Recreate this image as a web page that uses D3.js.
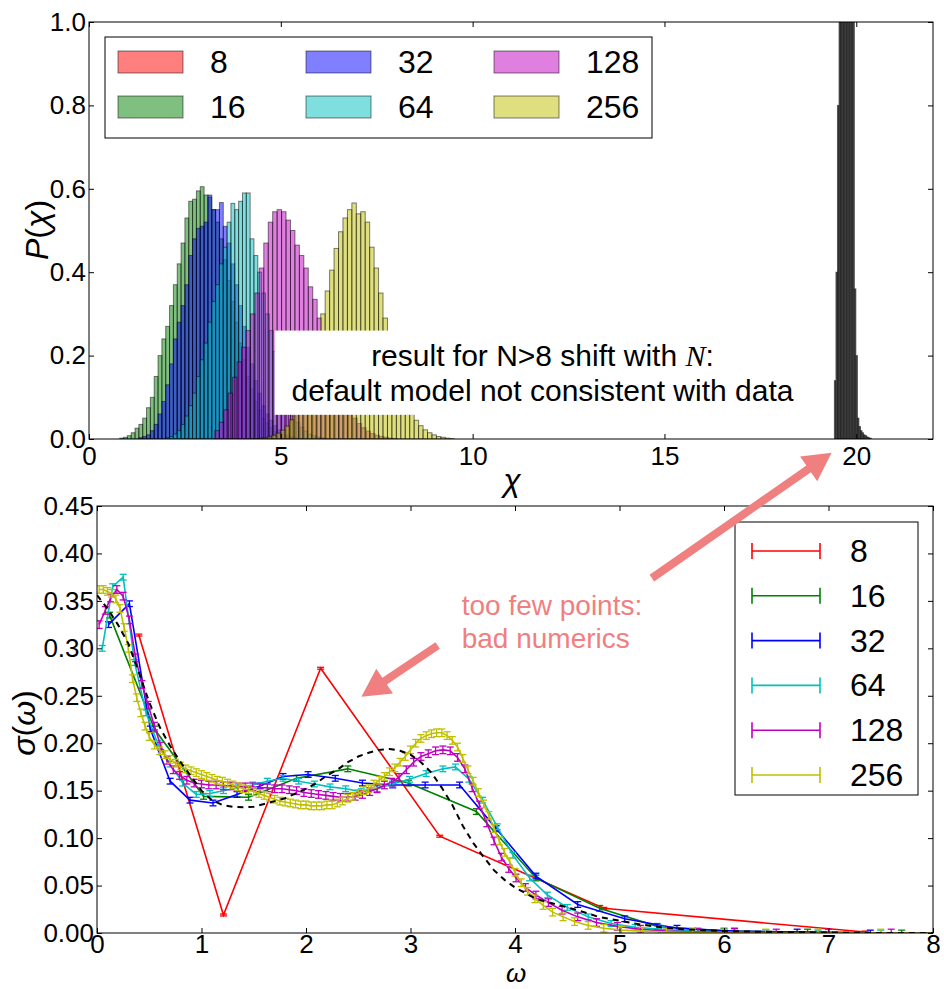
<!DOCTYPE html>
<html>
<head>
<meta charset="utf-8">
<script src="https://cdn.jsdelivr.net/npm/d3@7"></script>
<style>
  body { margin: 0; background: #fff; }
  svg text { font-family: "Liberation Sans", Arial, sans-serif; }
</style>
</head>
<body>
<svg id="chart" width="944" height="989"></svg>
<script>
// ---------------- data ----------------
const sizes = ['8', '16', '32', '64', '128', '256'];
const colors = ['#ff0000', '#008000', '#0000ff', '#00bfbf', '#bf00bf', '#bfbf00'];

// top panel: histograms of chi, left edge of first bin, bin width, bin heights
const histStart = [19.43, 0.80, 1.30, 2.00, 3.28, 4.30];
const histWidth = [0.04, 0.10, 0.10, 0.10, 0.116, 0.116];
const hist8 = [0.14, 0.40, 0.80, 1.4, 2.2, 3.0, 3.4, 3.4, 3.0, 2.4, 1.7, 1.2, 1.0, 0.36, 0.2,
  0.05, 0.03, 0.02, 0.015, 0.01, 0.008, 0.005, 0.003, 0.002];
const hist16 = [0.002, 0.004, 0.008, 0.015, 0.026, 0.035, 0.05, 0.075, 0.10, 0.15, 0.20, 0.24,
  0.27, 0.32, 0.37, 0.42, 0.47, 0.53, 0.57, 0.575, 0.595, 0.605, 0.585, 0.58, 0.55, 0.52, 0.48,
  0.43, 0.38, 0.33, 0.28, 0.23, 0.19, 0.15, 0.12, 0.09, 0.07, 0.05, 0.038, 0.027, 0.019, 0.013,
  0.009, 0.006, 0.004, 0.002, 0.001];
const hist32 = [0.003, 0.006, 0.01, 0.02, 0.035, 0.06, 0.09, 0.13, 0.18, 0.24, 0.28, 0.32, 0.37,
  0.44, 0.48, 0.505, 0.51, 0.52, 0.585, 0.55, 0.55, 0.567, 0.51, 0.47, 0.42, 0.37, 0.32, 0.27,
  0.22, 0.18, 0.14, 0.11, 0.08, 0.06, 0.045, 0.032, 0.022, 0.015, 0.01, 0.006, 0.004, 0.002, 0.001];
const hist64 = [0.003, 0.006, 0.012, 0.02, 0.035, 0.055, 0.08, 0.11, 0.15, 0.19, 0.23, 0.28, 0.33,
  0.37, 0.42, 0.46, 0.52, 0.565, 0.55, 0.57, 0.59, 0.59, 0.48, 0.44, 0.40, 0.35, 0.30, 0.26, 0.21,
  0.17, 0.13, 0.10, 0.075, 0.055, 0.04, 0.028, 0.019, 0.012, 0.008, 0.005, 0.003, 0.002];
const hist128 = [0.02, 0.04, 0.07, 0.11, 0.148, 0.185, 0.22, 0.26, 0.30, 0.35, 0.41, 0.47, 0.52,
  0.545, 0.55, 0.545, 0.525, 0.50, 0.465, 0.44, 0.41, 0.365, 0.335, 0.29, 0.25, 0.21, 0.175, 0.14,
  0.11, 0.085, 0.065, 0.05, 0.037, 0.027, 0.019, 0.013, 0.009, 0.006, 0.004, 0.002, 0.001];
const hist256 = [0.001, 0.002, 0.003, 0.005, 0.009, 0.014, 0.021, 0.031, 0.046, 0.063, 0.088, 0.12,
  0.155, 0.20, 0.245, 0.30, 0.355, 0.405, 0.457, 0.497, 0.53, 0.55, 0.566, 0.54, 0.545, 0.52, 0.46,
  0.41, 0.35, 0.29, 0.24, 0.19, 0.15, 0.115, 0.085, 0.06, 0.045, 0.032, 0.022, 0.015, 0.010, 0.006,
  0.004, 0.002, 0.001];
const hists = [hist8, hist16, hist32, hist64, hist128, hist256];

// bottom panel: sigma(omega) per N, as [omega, sigma]
const sig8 = [[0.40, 0.314], [1.21, 0.019], [2.14, 0.279], [3.28, 0.102], [4.85, 0.026], [7.35, 0.001]];
const sig16 = [[0.12, 0.335], [0.55, 0.215], [1.02, 0.144], [1.45, 0.143], [1.91, 0.163], [2.40, 0.173],
  [2.98, 0.158], [3.63, 0.128], [4.20, 0.058], [4.81, 0.026], [5.36, 0.007], [6.0, 0.002], [6.8, 0.001], [7.7, 0.0]];
const sig32 = [[0.11, 0.325], [0.31, 0.347], [0.51, 0.215], [0.70, 0.160], [0.89, 0.140], [1.11, 0.137],
  [1.34, 0.146], [1.56, 0.155], [1.78, 0.165], [2.02, 0.167], [2.28, 0.163], [2.54, 0.158], [2.83, 0.156],
  [3.14, 0.156], [3.47, 0.156], [3.82, 0.110], [4.20, 0.060], [4.60, 0.030], [5.05, 0.015], [5.55, 0.005],
  [6.10, 0.002], [6.70, 0.001], [7.40, 0.0], [8.20, 0.0]];
const sig64 = [[0.05, 0.300], [0.15, 0.365], [0.25, 0.375], [0.36, 0.285], [0.47, 0.232], [0.58, 0.200],
  [0.70, 0.178], [0.82, 0.158], [0.95, 0.146], [1.08, 0.147], [1.21, 0.150], [1.35, 0.153], [1.49, 0.156],
  [1.63, 0.160], [1.78, 0.163], [1.93, 0.160], [2.08, 0.157], [2.23, 0.154], [2.38, 0.152], [2.53, 0.149],
  [2.68, 0.152], [2.83, 0.157], [2.99, 0.162], [3.15, 0.168], [3.31, 0.173], [3.43, 0.175], [3.56, 0.162],
  [3.69, 0.140], [3.83, 0.112], [3.98, 0.082], [4.14, 0.058], [4.31, 0.040], [4.50, 0.027], [4.70, 0.017],
  [4.92, 0.010], [5.15, 0.006], [5.40, 0.004], [5.70, 0.002], [6.00, 0.001], [6.40, 0.0005], [6.90, 0.0],
  [7.50, 0.0], [8.20, 0.0]];
const sig128 = [[0.02, 0.325], [0.08, 0.340], [0.13, 0.353], [0.19, 0.362], [0.25, 0.355], [0.31, 0.330],
  [0.37, 0.290], [0.43, 0.262], [0.49, 0.240], [0.55, 0.218], [0.61, 0.197], [0.67, 0.182], [0.73, 0.172],
  [0.79, 0.166], [0.86, 0.161], [0.93, 0.158], [1.00, 0.157], [1.07, 0.156], [1.14, 0.156], [1.21, 0.155],
  [1.28, 0.155], [1.35, 0.154], [1.42, 0.154], [1.49, 0.154], [1.56, 0.153], [1.63, 0.153], [1.70, 0.152],
  [1.77, 0.152], [1.84, 0.151], [1.91, 0.150], [1.98, 0.148], [2.05, 0.147], [2.12, 0.146], [2.19, 0.145],
  [2.26, 0.144], [2.33, 0.143], [2.40, 0.143], [2.47, 0.144], [2.54, 0.146], [2.61, 0.149], [2.68, 0.152],
  [2.75, 0.156], [2.82, 0.159], [2.89, 0.164], [2.96, 0.172], [3.03, 0.180], [3.10, 0.186], [3.17, 0.189],
  [3.24, 0.192], [3.31, 0.193], [3.38, 0.192], [3.45, 0.185], [3.52, 0.173], [3.59, 0.153], [3.66, 0.135],
  [3.73, 0.116], [3.80, 0.097], [3.87, 0.080], [3.94, 0.068], [4.01, 0.058], [4.10, 0.048], [4.20, 0.040],
  [4.32, 0.032], [4.45, 0.024], [4.60, 0.017], [4.78, 0.011], [4.98, 0.007], [5.20, 0.004], [5.45, 0.002],
  [5.75, 0.001], [6.10, 0.0005], [6.50, 0.0], [7.00, 0.0], [7.60, 0.0], [8.20, 0.0]];
const sig256 = [[0.02, 0.362], [0.06, 0.362], [0.10, 0.360], [0.14, 0.358], [0.18, 0.352], [0.22, 0.342],
  [0.26, 0.322], [0.30, 0.300], [0.34, 0.268], [0.38, 0.248], [0.42, 0.232], [0.46, 0.218], [0.50, 0.207],
  [0.55, 0.198], [0.60, 0.192], [0.65, 0.188], [0.70, 0.183], [0.75, 0.179], [0.80, 0.176], [0.85, 0.173],
  [0.90, 0.171], [0.95, 0.169], [1.00, 0.167], [1.05, 0.165], [1.10, 0.163], [1.15, 0.161], [1.20, 0.160],
  [1.25, 0.158], [1.30, 0.156], [1.35, 0.154], [1.40, 0.152], [1.45, 0.151], [1.50, 0.149], [1.55, 0.147],
  [1.60, 0.145], [1.65, 0.143], [1.70, 0.141], [1.75, 0.139], [1.80, 0.138], [1.85, 0.137], [1.90, 0.136],
  [1.95, 0.135], [2.00, 0.135], [2.05, 0.134], [2.10, 0.134], [2.15, 0.134], [2.20, 0.135], [2.25, 0.135],
  [2.30, 0.137], [2.35, 0.139], [2.40, 0.142], [2.45, 0.144], [2.50, 0.147], [2.55, 0.150], [2.60, 0.152],
  [2.65, 0.157], [2.70, 0.161], [2.75, 0.165], [2.80, 0.170], [2.85, 0.174], [2.90, 0.180], [2.95, 0.186],
  [3.00, 0.193], [3.05, 0.200], [3.10, 0.205], [3.15, 0.208], [3.20, 0.210], [3.25, 0.211], [3.30, 0.211],
  [3.35, 0.208], [3.40, 0.203], [3.45, 0.196], [3.50, 0.184], [3.55, 0.172], [3.60, 0.160], [3.65, 0.148],
  [3.70, 0.136], [3.75, 0.124], [3.80, 0.110], [3.85, 0.097], [3.90, 0.085], [3.95, 0.075], [4.00, 0.064],
  [4.06, 0.053], [4.12, 0.044], [4.19, 0.036], [4.27, 0.029], [4.36, 0.022], [4.46, 0.017], [4.57, 0.012],
  [4.70, 0.008], [4.85, 0.005], [5.02, 0.003], [5.22, 0.002], [5.45, 0.001], [5.70, 0.0005], [6.00, 0.0],
  [6.40, 0.0], [6.90, 0.0], [7.50, 0.0], [8.20, 0.0]];
const sigSeries = [sig8, sig16, sig32, sig64, sig128, sig256];
const sigErr = [0.001, 0.003, 0.003, 0.003, 0.004, 0.004];

// default model (dashed)
const model = [[0.0, 0.356], [0.1, 0.342], [0.2, 0.325], [0.3, 0.305], [0.4, 0.275], [0.5, 0.243],
  [0.6, 0.217], [0.7, 0.197], [0.8, 0.180], [0.9, 0.165], [1.0, 0.150], [1.1, 0.140], [1.2, 0.135],
  [1.3, 0.133], [1.4, 0.1325], [1.5, 0.133], [1.6, 0.136], [1.7, 0.139], [1.8, 0.142], [1.9, 0.147],
  [2.0, 0.152], [2.1, 0.158], [2.2, 0.166], [2.3, 0.172], [2.4, 0.180], [2.5, 0.186], [2.6, 0.190],
  [2.7, 0.193], [2.8, 0.194], [2.9, 0.192], [3.0, 0.188], [3.1, 0.180], [3.2, 0.169], [3.3, 0.153],
  [3.4, 0.135], [3.5, 0.113], [3.6, 0.095], [3.7, 0.080], [3.8, 0.066], [3.9, 0.056], [4.0, 0.048],
  [4.2, 0.036], [4.4, 0.030], [4.6, 0.024], [4.8, 0.017], [5.0, 0.013], [5.2, 0.009], [5.4, 0.006],
  [5.6, 0.004], [5.8, 0.003], [6.0, 0.002], [6.5, 0.001], [7.0, 0.0005], [7.5, 0.0], [8.0, 0.0]];

const chiTicks = [0, 5, 10, 15, 20];
const pTicks = [0, 0.2, 0.4, 0.6, 0.8, 1.0];
const omegaTicks = [0, 1, 2, 3, 4, 5, 6, 7, 8];
const sigmaTicks = [0, 0.05, 0.10, 0.15, 0.20, 0.25, 0.30, 0.35, 0.40, 0.45];

const noteColor = '#f08080';

// ---------------- drawing ----------------
const svg = d3.select('#chart');
const defs = svg.append('defs');

const tp = { l: 89, r: 933, t: 22, b: 439 };
const bp = { l: 97, r: 933, t: 506, b: 933 };

const xChi = d3.scaleLinear().domain([0, 22]).range([tp.l, tp.r]);
const yP = d3.scaleLinear().domain([0, 1]).range([tp.b, tp.t]);
const xW = d3.scaleLinear().domain([0, 8]).range([bp.l, bp.r]);
const yS = d3.scaleLinear().domain([0, 0.45]).range([bp.b, bp.t]);

function clip(id, p) {
  defs.append('clipPath').attr('id', id).append('rect')
    .attr('x', p.l).attr('y', p.t).attr('width', p.r - p.l).attr('height', p.b - p.t);
}
clip('clipTop', tp);
clip('clipBot', bp);

// histograms (the very narrow N=8 bins are mostly edge lines, so they read almost black)
const gHist = svg.append('g').attr('clip-path', 'url(#clipTop)');
hists.forEach((h, i) => {
  gHist.append('g').selectAll('rect')
    .data(h)
    .join('rect')
    .attr('x', (d, j) => xChi(histStart[i] + j * histWidth[i]))
    .attr('width', (d, j) => xChi(histStart[i] + (j + 1) * histWidth[i]) - xChi(histStart[i] + j * histWidth[i]))
    .attr('y', d => yP(d))
    .attr('height', d => yP(0) - yP(d))
    .attr('fill', i === 0 ? '#444' : colors[i])
    .attr('fill-opacity', i === 0 ? 0.9 : 0.5)
    .attr('stroke', '#000')
    .attr('stroke-opacity', 0.5)
    .attr('stroke-width', 1);
});

// axes helper: ticks pointing inward on all four sides
function axes(x, y, p, xt, yt, xfmt, yfmt, xpad, fs) {
  const g = svg.append('g');
  const ax = [
    g.append('g').attr('transform', `translate(0,${p.b})`)
      .call(d3.axisBottom(x).tickValues(xt).tickFormat(xfmt).tickSize(-5).tickSizeOuter(0).tickPadding(xpad)),
    g.append('g').attr('transform', `translate(0,${p.t})`)
      .call(d3.axisTop(x).tickValues(xt).tickFormat('').tickSize(-5).tickSizeOuter(0)),
    g.append('g').attr('transform', `translate(${p.l},0)`)
      .call(d3.axisLeft(y).tickValues(yt).tickFormat(yfmt).tickSize(-5).tickSizeOuter(0).tickPadding(3)),
    g.append('g').attr('transform', `translate(${p.r},0)`)
      .call(d3.axisRight(y).tickValues(yt).tickFormat('').tickSize(-5).tickSizeOuter(0))
  ];
  ax.forEach(a => {
    a.select('.domain').remove();
    a.selectAll('text').attr('font-family', '"Liberation Sans", Arial, sans-serif')
      .attr('font-size', fs).attr('fill', '#000');
    a.selectAll('line').attr('stroke', '#000');
  });
  g.append('rect').attr('x', p.l).attr('y', p.t).attr('width', p.r - p.l).attr('height', p.b - p.t)
    .attr('fill', 'none').attr('stroke', '#000').attr('stroke-width', 1);
}

axes(xChi, yP, tp, chiTicks, pTicks, d3.format('d'), d3.format('.1f'), 8, 26);

// note box in the top panel
const noteX = xChi(11.82);
const noteBox = svg.append('g');
noteBox.append('rect')
  .attr('x', xChi(4.84)).attr('y', yP(0.26))
  .attr('width', xChi(18.6) - xChi(4.84)).attr('height', yP(0.058) - yP(0.26))
  .attr('fill', '#fff');
const t1 = noteBox.append('text').attr('x', noteX).attr('y', yP(0.175)).attr('text-anchor', 'middle')
  .attr('font-size', 30).attr('fill', '#000');
t1.append('tspan').text('result for N>8 shift with ');
t1.append('tspan').attr('font-family', '"Liberation Serif", serif').attr('font-style', 'italic').text('N');
t1.append('tspan').text(':');
noteBox.append('text').attr('x', noteX).attr('y', yP(0.09)).attr('text-anchor', 'middle')
  .attr('font-size', 30).attr('fill', '#000')
  .text('default model not consistent with data');

// legend of the top panel
const legTop = svg.append('g');
legTop.append('rect').attr('x', 105).attr('y', 37).attr('width', 547).attr('height', 101)
  .attr('fill', '#fff').attr('stroke', '#000').attr('stroke-width', 1);
sizes.forEach((s, i) => {
  const col = Math.floor(i / 2), row = i % 2;
  const lx = 118 + col * 188, ly = 51 + row * 45;
  legTop.append('rect').attr('x', lx).attr('y', ly).attr('width', 65).attr('height', 22)
    .attr('fill', colors[i]).attr('fill-opacity', 0.5)
    .attr('stroke', '#000').attr('stroke-opacity', 0.5);
  legTop.append('text').attr('x', lx + 92).attr('y', ly + 22).attr('font-size', 32).text(s);
});

// axis labels of the top panel
svg.append('text').attr('transform', 'translate(48,230) rotate(-90)').attr('text-anchor', 'middle')
  .attr('font-family', '"Liberation Serif", serif').attr('font-size', 32)
  .html('<tspan font-style="italic">P</tspan>(<tspan font-style="italic">χ</tspan>)');
svg.append('text').attr('x', 512).attr('y', 491).attr('text-anchor', 'middle')
  .attr('font-family', '"Liberation Serif", serif').attr('font-style', 'italic').attr('font-size', 32)
  .text('χ');

// ---------------- bottom panel ----------------
const gLines = svg.append('g').attr('clip-path', 'url(#clipBot)');
const line = d3.line().x(d => xW(d[0])).y(d => yS(d[1]));

sigSeries.forEach((s, i) => {
  const g = gLines.append('g');
  g.append('path').datum(s).attr('d', line)
    .attr('fill', 'none').attr('stroke', colors[i]).attr('stroke-width', 1.6);
  const e = sigErr[i];
  g.selectAll('line.err').data(s).join('line').attr('class', 'err')
    .attr('x1', d => xW(d[0])).attr('x2', d => xW(d[0]))
    .attr('y1', d => yS(d[1] - e)).attr('y2', d => yS(d[1] + e))
    .attr('stroke', colors[i]).attr('stroke-width', 1.3);
  [-e, e].forEach(o => {
    g.selectAll(null).data(s).join('line')
      .attr('x1', d => xW(d[0]) - 3.5).attr('x2', d => xW(d[0]) + 3.5)
      .attr('y1', d => yS(d[1] + o)).attr('y2', d => yS(d[1] + o))
      .attr('stroke', colors[i]).attr('stroke-width', 1.3);
  });
});

gLines.append('path').datum(model).attr('d', line)
  .attr('fill', 'none').attr('stroke', '#000').attr('stroke-width', 2)
  .attr('stroke-dasharray', '6,5');

axes(xW, yS, bp, omegaTicks, sigmaTicks, d3.format('d'), d3.format('.2f'), 2, 26);

// legend of the bottom panel
const legBot = svg.append('g');
legBot.append('rect').attr('x', 735).attr('y', 522).attr('width', 183).attr('height', 273)
  .attr('fill', '#fff').attr('stroke', '#000').attr('stroke-width', 1);
sizes.forEach((s, i) => {
  const cy = 551 + i * 44.8;
  legBot.append('line').attr('x1', 752).attr('x2', 820).attr('y1', cy).attr('y2', cy)
    .attr('stroke', colors[i]).attr('stroke-width', 1.6);
  [752, 820].forEach(cx => {
    legBot.append('line').attr('x1', cx).attr('x2', cx).attr('y1', cy - 8).attr('y2', cy + 8)
      .attr('stroke', colors[i]).attr('stroke-width', 1.6);
  });
  legBot.append('text').attr('x', 850).attr('y', cy + 11).attr('font-size', 32).text(s);
});

// axis labels of the bottom panel
svg.append('text').attr('transform', 'translate(35,723) rotate(-90)').attr('text-anchor', 'middle')
  .attr('font-family', '"Liberation Serif", serif').attr('font-size', 32)
  .html('<tspan font-style="italic">σ</tspan>(<tspan font-style="italic">ω</tspan>)');
svg.append('text').attr('x', 516).attr('y', 982).attr('text-anchor', 'middle')
  .attr('font-family', '"Liberation Serif", serif').attr('font-style', 'italic').attr('font-size', 26)
  .text('ω');

// ---------------- annotations ----------------
function arrow(p0, p1) {
  const dx = p1[0] - p0[0], dy = p1[1] - p0[1], len = Math.hypot(dx, dy);
  const ux = dx / len, uy = dy / len, nx = -uy, ny = ux;
  const sw = 4, hw = 15, hl = 28;
  const bx = p1[0] - ux * hl, by = p1[1] - uy * hl;
  const pts = [
    [p0[0] + nx * sw, p0[1] + ny * sw], [bx + nx * sw, by + ny * sw], [bx + nx * hw, by + ny * hw],
    p1, [bx - nx * hw, by - ny * hw], [bx - nx * sw, by - ny * sw], [p0[0] - nx * sw, p0[1] - ny * sw]
  ];
  svg.append('polygon').attr('points', pts.map(p => p.join(',')).join(' ')).attr('fill', noteColor);
}
// arrow to the N=8 peak (bottom-axis data coordinates)
arrow([xW(5.31), yS(0.374)], [xW(7.03), yS(0.506)]);
// arrow to the N=8 curve
arrow([xW(3.26), yS(0.303)], [xW(2.53), yS(0.249)]);

const note2 = svg.append('text').attr('x', xW(3.49)).attr('y', yS(0.335))
  .attr('font-size', 28).attr('fill', noteColor);
note2.append('tspan').text('too few points:');
note2.append('tspan').attr('x', xW(3.49)).attr('dy', 33).text('bad numerics');
</script>
</body>
</html>
